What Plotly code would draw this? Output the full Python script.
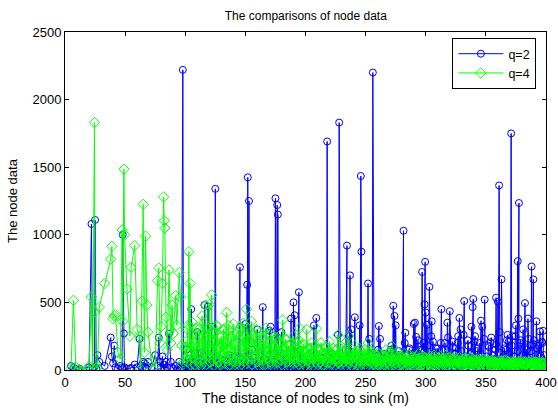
import plotly.graph_objects as go

# distance of nodes to sink (m), shared by both series
distance = [
    5, 7, 9, 11, 12, 20, 22, 23, 24.5, 25, 26, 27, 28.5, 33, 38, 39, 40, 41, 42, 44, 46, 47.5, 48, 49, 49.5, 51.5,
    54, 55, 58, 60, 62, 63, 64, 65, 66, 67, 68, 69, 72, 75, 77, 78, 79, 80, 81, 82, 82.5, 83, 84, 85, 86.5, 88, 89, 90, 92, 93, 95, 96, 97, 98, 98.5, 100,
    101, 102, 103, 104, 105, 106, 107, 108, 109, 110, 111, 112, 113, 114, 115, 116, 117, 118, 119, 120, 121, 122, 123, 124, 125, 125.5, 126, 127, 128, 129, 130,
    131, 132, 133, 134.5, 135, 136, 137, 138, 139, 140, 141, 142, 143, 144, 145.5, 146, 147, 148, 149, 150,
    151, 151.5, 152, 153, 154, 155, 156, 157, 158, 159, 160, 161, 162, 163, 164.5, 165, 166, 167, 168, 169, 170, 171, 172, 173, 174, 175,
    176, 176.5, 177, 178, 179, 180, 181, 182, 183, 184, 185, 186, 187, 188, 189, 190, 191, 192, 193, 194.5, 195, 196, 197, 198, 199, 200,
    201, 202, 203, 204, 205, 206, 207, 208, 209, 210, 211, 212, 213, 214, 215, 216, 218, 218.5, 219, 220, 221, 222, 223, 224, 225,
    227, 228, 228.5, 229, 230, 231, 232, 233, 234.5, 235, 236, 237, 238, 239, 240, 241, 242, 243, 244, 245, 246, 246.5, 247, 248, 249, 250,
    251, 252, 253, 254, 255, 256, 256.5, 257, 258, 259, 260, 261, 262, 263, 264, 265, 266, 267, 268, 269, 270, 271, 272, 273, 274, 275,
    276, 277, 278, 279, 280, 281.5, 282, 283, 284, 285, 286, 287, 288, 289, 290, 291, 292, 293, 294, 295, 296, 297, 298, 299, 299.5, 300,
    301, 302, 303, 304, 305, 306, 307, 308, 309, 310, 311, 312, 313, 313.5, 314, 315, 316, 317, 318, 319, 320, 321, 322, 323, 324, 325,
    326, 327, 328, 329, 330, 331, 332, 333, 334, 335, 336, 337, 338, 339, 339.5, 340, 341, 342, 343, 344, 345, 346, 347, 348, 349, 350,
    351, 352, 353, 354, 355, 356, 357, 358, 358.5, 359, 360, 361, 362, 363, 364, 365, 366, 367, 368, 369, 370, 371, 371.5, 372, 373, 374, 375,
    376, 376.5, 377, 377.5, 378, 379, 380, 381, 382, 382.5, 383, 384, 385, 386, 387, 388, 389, 389.5, 390, 391, 392, 393, 394, 395, 396, 397, 397.5, 398, 399,
]

# node data for q=2
data_q2 = [
    30, 15, 5, 0, 10, 20, 1080, 15, 20, 1110, 10, 110, 60, 30, 240, 100, 50, 180, 20, 10, 30, 20, 1000, 270, 20, 10,
    10, 15, 40, 20, 230, 30, 10, 60, 50, 20, 10, 60, 20, 110, 30, 240, 60, 20, 100, 10, 40, 5, 60, 20, 270, 60, 20, 10, 30, 5, 60, 10, 20, 2220, 20, 50,
    150, 30, 80, 20, 450, 60, 10, 120, 30, 280, 10, 50, 130, 20, 70, 480, 10, 40, 470, 20, 90, 320, 10, 60, 1340, 30, 100, 15, 50, 20, 80,
    10, 40, 20, 60, 10, 90, 30, 10, 70, 20, 100, 30, 10, 50, 760, 20, 80, 10, 40, 340,
    20, 630, 1425, 1250, 60, 20, 100, 10, 50, 20, 300, 10, 60, 30, 465, 20, 80, 10, 40, 20, 290, 320, 30, 10, 60, 1270,
    20, 1220, 1150, 40, 10, 280, 20, 120, 10, 50, 30, 10, 70, 380, 20, 500, 405, 30, 10, 575, 20, 120, 10, 60, 30, 10,
    50, 20, 10, 80, 30, 10, 330, 20, 385, 40, 10, 60, 20, 10, 90, 30, 1690, 20, 10, 60, 20, 120, 10, 40, 20,
    260, 1830, 30, 10, 50, 20, 80, 10, 920, 30, 250, 700, 300, 20, 60, 390, 10, 40, 20, 330, 1435, 875, 30, 10, 100, 20,
    50, 640, 230, 20, 10, 2200, 40, 10, 60, 20, 100, 325, 230, 30, 10, 60, 120, 20, 10, 80, 30, 150, 20, 475, 400, 330,
    40, 10, 100, 30, 60, 1030, 20, 275, 40, 10, 150, 60, 20, 120, 340, 350, 245, 30, 80, 20, 150, 725, 200, 485, 800, 425,
    335, 20, 615, 60, 360, 210, 20, 100, 30, 160, 20, 60, 450, 150, 30, 10, 200, 40, 350, 20, 435, 60, 210, 30, 10, 160,
    40, 250, 385, 300, 30, 50, 510, 20, 80, 220, 40, 120, 320, 465, 525, 30, 250, 40, 140, 20, 200, 365, 320, 30, 520, 60,
    20, 180, 30, 205, 10, 80, 40, 150, 535, 20, 505, 1365, 30, 670, 40, 100, 20, 150, 260, 210, 30, 1750, 40, 250, 20, 100, 330,
    40, 805, 380, 1235, 60, 220, 30, 300, 60, 495, 20, 150, 380, 40, 180, 765, 50, 670, 220, 30, 360, 60, 180, 285, 20, 200, 290, 40, 60,
]

# node data for q=4
data_q4 = [
    10, 515, 20, 0, 5, 30, 540, 10, 1830, 430, 15, 20, 465, 640, 820, 915, 380, 400, 410, 130, 80, 1035, 360, 1485, 1000, 600,
    250, 760, 920, 300, 250, 10, 510, 1225, 130, 990, 480, 280, 60, 20, 660, 755, 200, 320, 640, 1280, 1105, 1050, 390, 150, 740, 200, 480, 270, 550, 330, 720, 540, 180, 40, 60, 170,
    90, 300, 875, 640, 120, 350, 200, 40, 310, 80, 250, 150, 30, 400, 180, 60, 480, 110, 300, 485, 90, 555, 200, 280, 120, 20, 330, 150, 60, 240, 110,
    180, 300, 80, 425, 150, 330, 40, 250, 120, 340, 60, 200, 280, 100, 30, 320, 150, 345, 60, 210,
    450, 80, 300, 120, 200, 360, 90, 250, 140, 300, 60, 190, 280, 100, 40, 230, 150, 310, 80, 200, 120, 260, 50, 180, 90, 230,
    130, 60, 200, 110, 260, 70, 370, 150, 80, 220, 120, 180, 60, 200, 110, 250, 80, 160, 60, 220, 310, 100, 180, 50, 140, 90,
    300, 100, 160, 60, 200, 120, 80, 180, 305, 100, 150, 60, 200, 120, 40, 170, 90, 130, 60, 210, 100, 50, 160, 80, 140,
    260, 60, 120, 180, 90, 140, 60, 200, 110, 60, 250, 120, 80, 150, 60, 180, 100, 140, 70, 160, 90, 40, 130, 70, 150, 60,
    120, 200, 80, 140, 60, 110, 50, 130, 70, 100, 40, 120, 80, 60, 110, 40, 90, 150, 60, 100, 40, 120, 175, 70, 110, 50,
    90, 130, 60, 100, 40, 80, 120, 60, 90, 40, 110, 70, 50, 100, 60, 90, 40, 80, 120, 60, 90, 40, 100, 70, 50, 90,
    60, 40, 80, 100, 50, 70, 110, 60, 40, 90, 60, 100, 50, 80, 40, 90, 60, 110, 40, 70, 90, 50, 80, 60, 100, 40,
    70, 50, 90, 60, 40, 80, 60, 90, 40, 70, 50, 90, 60, 40, 80, 50, 70, 40, 80, 60, 40, 70, 50, 80, 40, 60,
    50, 70, 40, 60, 40, 70, 50, 40, 60, 50, 40, 70, 50, 40, 60, 50, 40, 70, 40, 60, 50, 40, 60, 50, 40, 60, 50,
    40, 60, 50, 40, 60, 50, 40, 60, 50, 40, 60, 50, 40, 60, 50, 40, 60, 50, 40, 60, 50, 40, 60, 50, 40, 60, 50, 40, 50,
]

# additional nodes in the dense region (100 m - 400 m)
distance_dense = [
    100.5, 101.5, 102.5, 103.5, 104.5, 105.5, 106.5, 107.5, 108.5, 109.5,
    110.5, 111.5, 112.5, 113.5, 114.5, 115.5, 116.5, 117.5, 118.5, 119.5,
    120.5, 121.5, 122.5, 123.5, 124.5, 125.5, 126.5, 127.5, 128.5, 129.5,
    130.5, 131.5, 132.5, 133.5, 134.5, 135.5, 136.5, 137.5, 138.5, 139.5,
    140.5, 141.5, 142.5, 143.5, 144.5, 145.5, 146.5, 147.5, 148.5, 149.5,
    150.5, 151.5, 152.5, 153.5, 154.5, 155.5, 156.5, 157.5, 158.5, 159.5,
    160.5, 161.5, 162.5, 163.5, 164.5, 165.5, 166.5, 167.5, 168.5, 169.5,
    170.5, 171.5, 172.5, 173.5, 174.5, 175.5, 176.5, 177.5, 178.5, 179.5,
    180.5, 181.5, 182.5, 183.5, 184.5, 185.5, 186.5, 187.5, 188.5, 189.5,
    190.5, 191.5, 192.5, 193.5, 194.5, 195.5, 196.5, 197.5, 198.5, 199.5,
    200.5, 201.5, 202.5, 203.5, 204.5, 205.5, 206.5, 207.5, 208.5, 209.5,
    210.5, 211.5, 212.5, 213.5, 214.5, 215.5, 216.5, 217.5, 218.5, 219.5,
    220.5, 221.5, 222.5, 223.5, 224.5, 225.5, 226.5, 227.5, 228.5, 229.5,
    230.5, 231.5, 232.5, 233.5, 234.5, 235.5, 236.5, 237.5, 238.5, 239.5,
    240.5, 241.5, 242.5, 243.5, 244.5, 245.5, 246.5, 247.5, 248.5, 249.5,
    250.5, 251.5, 252.5, 253.5, 254.5, 255.5, 256.5, 257.5, 258.5, 259.5,
    260.5, 261.5, 262.5, 263.5, 264.5, 265.5, 266.5, 267.5, 268.5, 269.5,
    270.5, 271.5, 272.5, 273.5, 274.5, 275.5, 276.5, 277.5, 278.5, 279.5,
    280.5, 281.5, 282.5, 283.5, 284.5, 285.5, 286.5, 287.5, 288.5, 289.5,
    290.5, 291.5, 292.5, 293.5, 294.5, 295.5, 296.5, 297.5, 298.5, 299.5,
    300.5, 301.5, 302.5, 303.5, 304.5, 305.5, 306.5, 307.5, 308.5, 309.5,
    310.5, 311.5, 312.5, 313.5, 314.5, 315.5, 316.5, 317.5, 318.5, 319.5,
    320.5, 321.5, 322.5, 323.5, 324.5, 325.5, 326.5, 327.5, 328.5, 329.5,
    330.5, 331.5, 332.5, 333.5, 334.5, 335.5, 336.5, 337.5, 338.5, 339.5,
    340.5, 341.5, 342.5, 343.5, 344.5, 345.5, 346.5, 347.5, 348.5, 349.5,
    350.5, 351.5, 352.5, 353.5, 354.5, 355.5, 356.5, 357.5, 358.5, 359.5,
    360.5, 361.5, 362.5, 363.5, 364.5, 365.5, 366.5, 367.5, 368.5, 369.5,
    370.5, 371.5, 372.5, 373.5, 374.5, 375.5, 376.5, 377.5, 378.5, 379.5,
    380.5, 381.5, 382.5, 383.5, 384.5, 385.5, 386.5, 387.5, 388.5, 389.5,
    390.5, 391.5, 392.5, 393.5, 394.5, 395.5, 396.5, 397.5, 398.5, 399.5,
]

data_q2_dense = [
    20, 5, 40, 10, 60, 15, 30, 5, 80, 20,
    10, 40, 5, 120, 20, 10, 50, 5, 30, 15,
    60, 10, 25, 5, 40, 90, 10, 30, 5, 50,
    20, 5, 70, 15, 40, 10, 110, 5, 30, 20,
    10, 50, 5, 30, 90, 15, 40, 5, 60, 20,
    30, 10, 80, 5, 40, 150, 20, 10, 60, 5,
    40, 15, 100, 10, 30, 5, 70, 20, 10, 50,
    15, 60, 5, 30, 120, 10, 40, 5, 80, 20,
    10, 50, 20, 5, 90, 30, 10, 60, 5, 40,
    20, 10, 70, 5, 30, 150, 10, 40, 20, 5,
    60, 10, 30, 5, 100, 20, 40, 10, 70, 5,
    30, 15, 90, 10, 40, 5, 60, 20, 10, 120,
    20, 5, 50, 30, 10, 80, 5, 40, 20, 10,
    60, 20, 5, 150, 30, 10, 90, 40, 5, 70,
    20, 100, 10, 40, 5, 60, 20, 10, 80, 30,
    10, 50, 20, 120, 5, 40, 80, 10, 60, 20,
    150, 10, 40, 90, 20, 60, 5, 110, 30, 70,
    20, 180, 40, 10, 90, 30, 60, 140, 20, 50,
    100, 30, 200, 10, 70, 40, 160, 20, 90, 50,
    30, 120, 60, 220, 20, 80, 40, 150, 30, 100,
    60, 180, 30, 90, 250, 40, 120, 20, 160, 70,
    30, 110, 200, 40, 80, 20, 150, 60, 240, 30,
    90, 40, 170, 20, 120, 60, 200, 30, 80, 140,
    40, 260, 60, 100, 30, 180, 70, 20, 130, 50,
    210, 30, 90, 160, 40, 120, 20, 80, 230, 50,
    100, 30, 170, 60, 240, 20, 110, 80, 190, 40,
    130, 280, 50, 90, 20, 160, 70, 220, 30, 120,
    60, 180, 30, 100, 250, 40, 140, 60, 200, 30,
    110, 50, 170, 30, 90, 230, 60, 140, 20, 190,
    80, 40, 160, 60, 120, 30, 210, 70, 110, 40,
]

data_q4_dense = [
    210, 60, 330, 140, 40, 260, 90, 180, 30, 220,
    120, 300, 50, 190, 80, 350, 140, 40, 240, 100,
    60, 280, 150, 30, 210, 90, 320, 60, 170, 40,
    250, 110, 50, 200, 80, 290, 30, 150, 230, 70,
    190, 40, 260, 120, 60, 300, 90, 180, 30, 240,
    130, 50, 220, 80, 280, 40, 160, 100, 230, 60,
    200, 30, 250, 120, 70, 190, 40, 270, 90, 150,
    60, 210, 30, 170, 100, 240, 50, 140, 80, 200,
    40, 160, 110, 230, 60, 130, 30, 190, 90, 150,
    50, 210, 80, 130, 40, 170, 100, 60, 190, 30,
    140, 70, 110, 40, 160, 90, 30, 130, 60, 100,
    40, 150, 80, 120, 30, 100, 60, 170, 50, 90,
    130, 40, 110, 70, 30, 150, 80, 50, 120, 40,
    100, 60, 140, 30, 90, 120, 50, 80, 30, 110,
    60, 130, 40, 90, 70, 30, 110, 50, 80, 40,
    100, 30, 70, 120, 50, 80, 40, 110, 30, 60,
    90, 40, 70, 30, 100, 60, 40, 80, 120, 50,
    30, 90, 60, 40, 80, 50, 100, 30, 70, 40,
    90, 50, 30, 80, 60, 110, 40, 70, 30, 60,
    80, 40, 100, 50, 30, 70, 60, 40, 90, 30,
    70, 50, 30, 80, 60, 40, 90, 30, 60, 50,
    40, 80, 30, 60, 70, 40, 50, 90, 30, 60,
    50, 30, 70, 40, 80, 60, 30, 50, 70, 40,
    60, 40, 30, 70, 50, 80, 40, 60, 30, 50,
    70, 30, 50, 60, 40, 80, 30, 50, 70, 40,
    30, 60, 40, 50, 70, 30, 60, 40, 50, 30,
    50, 40, 60, 30, 50, 70, 40, 30, 60, 40,
    30, 50, 40, 60, 30, 50, 40, 60, 30, 50,
    40, 30, 60, 40, 50, 30, 60, 40, 30, 50,
    40, 60, 30, 50, 40, 30, 50, 40, 30, 20,
]

x_ticks = [0, 50, 100, 150, 200, 250, 300, 350, 400]
y_ticks = [0, 500, 1000, 1500, 2000, 2500]

# merge all nodes ordered by distance
nodes = sorted(
    list(zip(distance, data_q2, data_q4)) + list(zip(distance_dense, data_q2_dense, data_q4_dense)),
    key=lambda t: t[0],
)
xs = [n[0] for n in nodes]
ys2 = [n[1] for n in nodes]
ys4 = [n[2] for n in nodes]

FONT = "Liberation Sans, Arial, Helvetica, sans-serif"

fig = go.Figure()
fig.add_trace(go.Scatter(
    x=xs, y=ys2, name="q=2", mode="lines+markers",
    line=dict(color="rgb(0,0,255)", width=1),
    marker=dict(symbol="circle-open", size=7, color="rgb(0,0,255)", line=dict(width=1)),
))
fig.add_trace(go.Scatter(
    x=xs, y=ys4, name="q=4", mode="lines+markers",
    line=dict(color="rgb(0,255,0)", width=1),
    marker=dict(symbol="diamond-open", size=8, color="rgb(0,255,0)", line=dict(width=1)),
))

axis_common = dict(
    showgrid=False, zeroline=False, showline=True, linecolor="black", linewidth=1,
    mirror="ticks", ticks="inside", ticklen=4, tickcolor="black", automargin=False,
    tickfont=dict(family=FONT, size=13, color="black"),
)

fig.update_layout(
    width=558, height=408,
    margin=dict(l=65, r=12, t=32, b=38, autoexpand=False),
    paper_bgcolor="white", plot_bgcolor="white",
    font=dict(family=FONT, size=12, color="black"),
    title=dict(text="The comparisons of node data", x=0.548, xanchor="center", y=0.962, yanchor="middle",
               font=dict(family=FONT, size=12, color="black")),
    xaxis=dict(range=[0, 400], tickvals=x_ticks,
               title=dict(text="The distance of nodes to sink (m)", standoff=1,
                          font=dict(family=FONT, size=14, color="black")),
               **axis_common),
    yaxis=dict(range=[0, 2500], tickvals=y_ticks,
               title=dict(text="The node data", standoff=11,
                          font=dict(family=FONT, size=13, color="black")),
               **axis_common),
    legend=dict(x=0.98, y=0.982, xanchor="right", yanchor="top",
                bgcolor="white", bordercolor="black", borderwidth=1,
                font=dict(family=FONT, size=12.5, color="black"),
                tracegroupgap=0, itemwidth=45),
    showlegend=True,
)

fig.write_html("out.html")
